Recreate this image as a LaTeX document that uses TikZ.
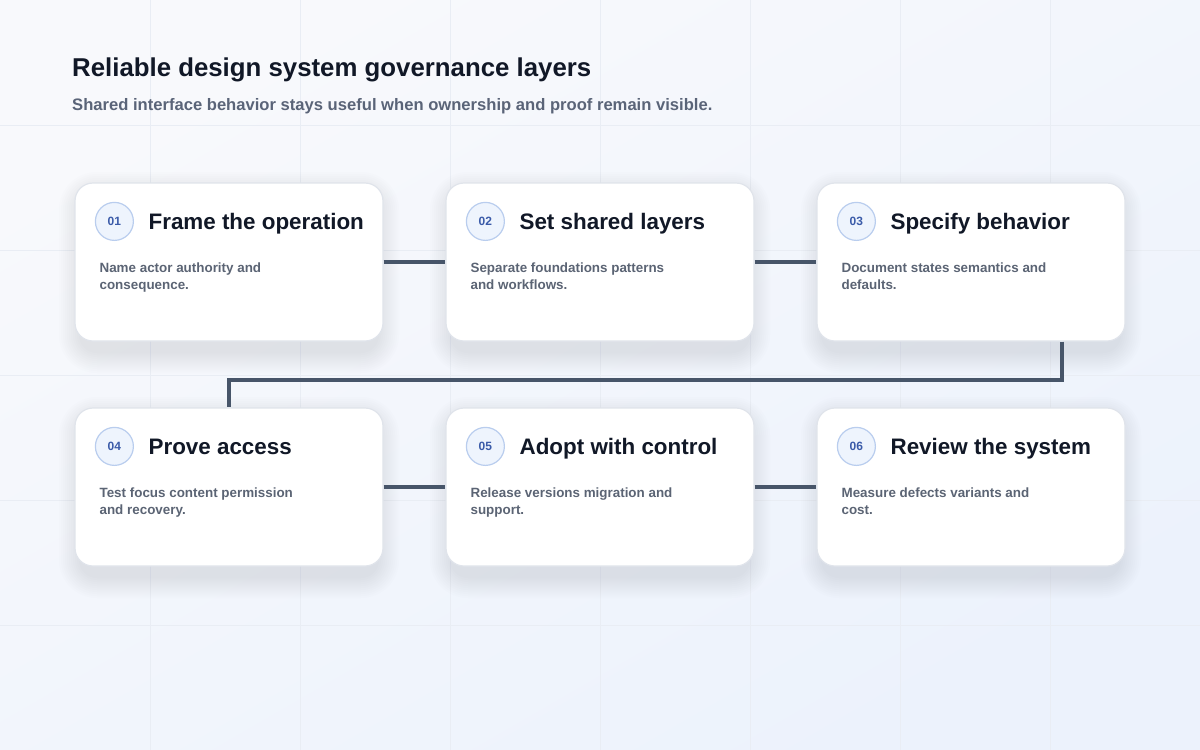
\documentclass[tikz,border=0pt]{standalone}
\usepackage{fontspec}
\setmainfont{Liberation Sans}
\usetikzlibrary{calc}
\definecolor{bgTL}{HTML}{F8F9FC}
\definecolor{bgBR}{HTML}{ECF2FC}
\definecolor{gridc}{HTML}{E9EDF4}
\definecolor{titlec}{HTML}{111827}
\definecolor{subc}{HTML}{5A6478}
\definecolor{descc}{HTML}{5B6474}
\definecolor{linkc}{HTML}{475569}
\definecolor{circfill}{HTML}{EEF4FD}
\definecolor{circdraw}{HTML}{B9CDEE}
\definecolor{numc}{HTML}{3B5BA9}
\definecolor{cardborder}{HTML}{E0E4EB}
\definecolor{shadowc}{HTML}{7D89A8}
\tikzset{
  card/.style={draw=cardborder, line width=1.2pt, fill=white, rounded corners=18pt,
    minimum width=308pt, minimum height=158pt, inner sep=0pt},
  numcirc/.style={circle, draw=circdraw, line width=1.2pt, fill=circfill, minimum size=38pt,
    inner sep=0pt, text=numc, font=\bfseries\fontsize{12}{14}\selectfont},
  cardtitle/.style={anchor=base west, inner sep=0pt, text=titlec, font=\bfseries\fontsize{22.4}{26}\selectfont},
  carddesc/.style={anchor=base west, inner sep=0pt, text=descc, align=left,
    font=\bfseries\fontsize{13.4}{17}\selectfont},
  link/.style={draw=linkc, line width=4pt},
  gridline/.style={draw=gridc, line width=1pt},
  shadowlayer/.style={fill=shadowc, fill opacity=0.016}
}
\begin{document}
\begin{tikzpicture}[x=1pt,y=-1pt]
\useasboundingbox (0,0) rectangle (1200,750);
\shade[shading=axis, top color=bgTL, bottom color=bgBR, shading angle=30] (0,0) rectangle (1200,750);
\foreach \gx in {150,300,...,1050} \draw[gridline] (\gx,0) -- (\gx,750);
\foreach \gy in {125,250,...,625} \draw[gridline] (0,\gy) -- (1200,\gy);

\node[anchor=base west, inner sep=0pt, text=titlec, font=\bfseries\fontsize{25.8}{30}\selectfont] (title) at (72,76) {Reliable design system governance layers};
\node[anchor=base west, inner sep=0pt, text=subc, font=\bfseries\fontsize{16.6}{20}\selectfont] (subtitle) at (72,110) {Shared interface behavior stays useful when ownership and proof remain visible.};

% soft shadows
\foreach \cx/\cy in {229/262,600/262,971/262,229/487,600/487,971/487} {
  \foreach \r in {0,2,...,20} {
    \pgfmathsetmacro{\rc}{18+\r}
    \fill[shadowlayer, rounded corners=\rc pt] (\cx-150-\r,\cy-70-\r) rectangle (\cx+150+\r,\cy+91+\r);
  }
}

% cards
\node[card] (c1) at (229,262) {};
\node[card] (c2) at (600,262) {};
\node[card] (c3) at (971,262) {};
\node[card] (c4) at (229,487) {};
\node[card] (c5) at (600,487) {};
\node[card] (c6) at (971,487) {};

% connectors
\draw[link] (c1.east) -- (c2.west);
\draw[link] (c2.east) -- (c3.west);
\coordinate (turnA) at ($(c3.south)+(91,0)$);
\coordinate (turnB) at ($(turnA)+(0,38)$);
\draw[link] (turnA) -- (turnB) -| (c4.north);
\draw[link] (c4.east) -- (c5.west);
\draw[link] (c5.east) -- (c6.west);

% card contents
\foreach \c/\n/\t/\d in {
  c1/01/Frame the operation/{Name actor authority and\\consequence.},
  c2/02/Set shared layers/{Separate foundations patterns\\and workflows.},
  c3/03/Specify behavior/{Document states semantics and\\defaults.},
  c4/04/Prove access/{Test focus content permission\\and recovery.},
  c5/05/Adopt with control/{Release versions migration and\\support.},
  c6/06/Review the system/{Measure defects variants and\\cost.}} {
  \node[numcirc] (\c-num) at ($(\c.north west)+(40,39)$) {\n};
  \node[cardtitle] (\c-title) at ($(\c.north west)+(74,47)$) {\t};
  \node[carddesc] (\c-desc) at ($(\c.north west)+(25,107)$) {\d};
}
\end{tikzpicture}
\end{document}
